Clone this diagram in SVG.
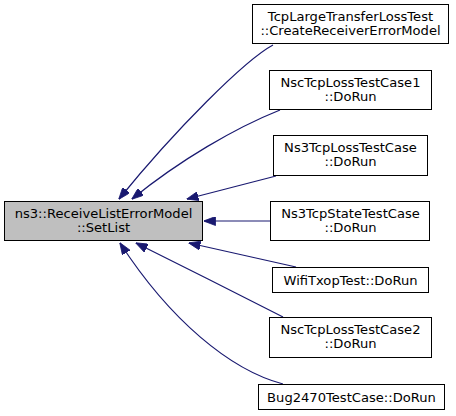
<svg xmlns="http://www.w3.org/2000/svg" width="456" height="416" viewBox="0 0 456 416">
<style>
.n rect{fill:#ffffff;stroke:#000000;stroke-width:1}
.n.main rect{fill:#bfbfbf}
.n text{font-family:"DejaVu Sans",sans-serif;font-size:13.1px;fill:#000000;text-anchor:middle}
.e path{fill:none;stroke:#191970;stroke-width:1.2}
</style>
<defs>
<marker id="ah" viewBox="0 0 12 9" refX="11.5" refY="4.5" markerWidth="12" markerHeight="9" markerUnits="userSpaceOnUse" orient="auto">
<polygon points="0,0 12,4.5 0,9" fill="#191970" stroke="#191970" stroke-width="0.8"/>
</marker>
</defs>
<g id="edges" class="e">
<path d="M273,45 C245,60 175,130 119,199" marker-end="url(#ah)"/>
<path d="M280,110 C235,128 180,160 132,199" marker-end="url(#ah)"/>
<path d="M276,176 L187,199" marker-end="url(#ah)"/>
<path d="M270,221 L204,221" marker-end="url(#ah)"/>
<path d="M296,267 L189,243" marker-end="url(#ah)"/>
<path d="M283,317 C240,295 180,265 136,243" marker-end="url(#ah)"/>
<path d="M283,384 C230,370 170,320 120,243" marker-end="url(#ah)"/>
</g>
<g id="main" class="n main">
<rect x="4.5" y="201.5" width="198" height="39"/>
<text x="103.5" y="218">ns3::ReceiveListErrorModel</text>
<text x="103.5" y="232">::SetList</text>
</g>
<g id="n1" class="n">
<rect x="252.5" y="4.5" width="196" height="39"/>
<text x="350.5" y="21">TcpLargeTransferLossTest</text>
<text x="350.5" y="35">::CreateReceiverErrorModel</text>
</g>
<g id="n2" class="n">
<rect x="269.5" y="70.5" width="162" height="39"/>
<text x="350.5" y="87">NscTcpLossTestCase1</text>
<text x="350.5" y="101">::DoRun</text>
</g>
<g id="n3" class="n">
<rect x="273.5" y="135.5" width="154" height="40"/>
<text x="350.5" y="152">Ns3TcpLossTestCase</text>
<text x="350.5" y="166">::DoRun</text>
</g>
<g id="n4" class="n">
<rect x="270.5" y="201.5" width="159" height="39"/>
<text x="350.5" y="218">Ns3TcpStateTestCase</text>
<text x="350.5" y="232">::DoRun</text>
</g>
<g id="n5" class="n">
<rect x="272.5" y="267.5" width="156" height="25"/>
<text x="350.5" y="284.5">WifiTxopTest::DoRun</text>
</g>
<g id="n6" class="n">
<rect x="269.5" y="317.5" width="162" height="40"/>
<text x="350.5" y="334">NscTcpLossTestCase2</text>
<text x="350.5" y="348">::DoRun</text>
</g>
<g id="n7" class="n">
<rect x="258.5" y="384.5" width="186" height="25"/>
<text x="351.5" y="401.5">Bug2470TestCase::DoRun</text>
</g>
</svg>
